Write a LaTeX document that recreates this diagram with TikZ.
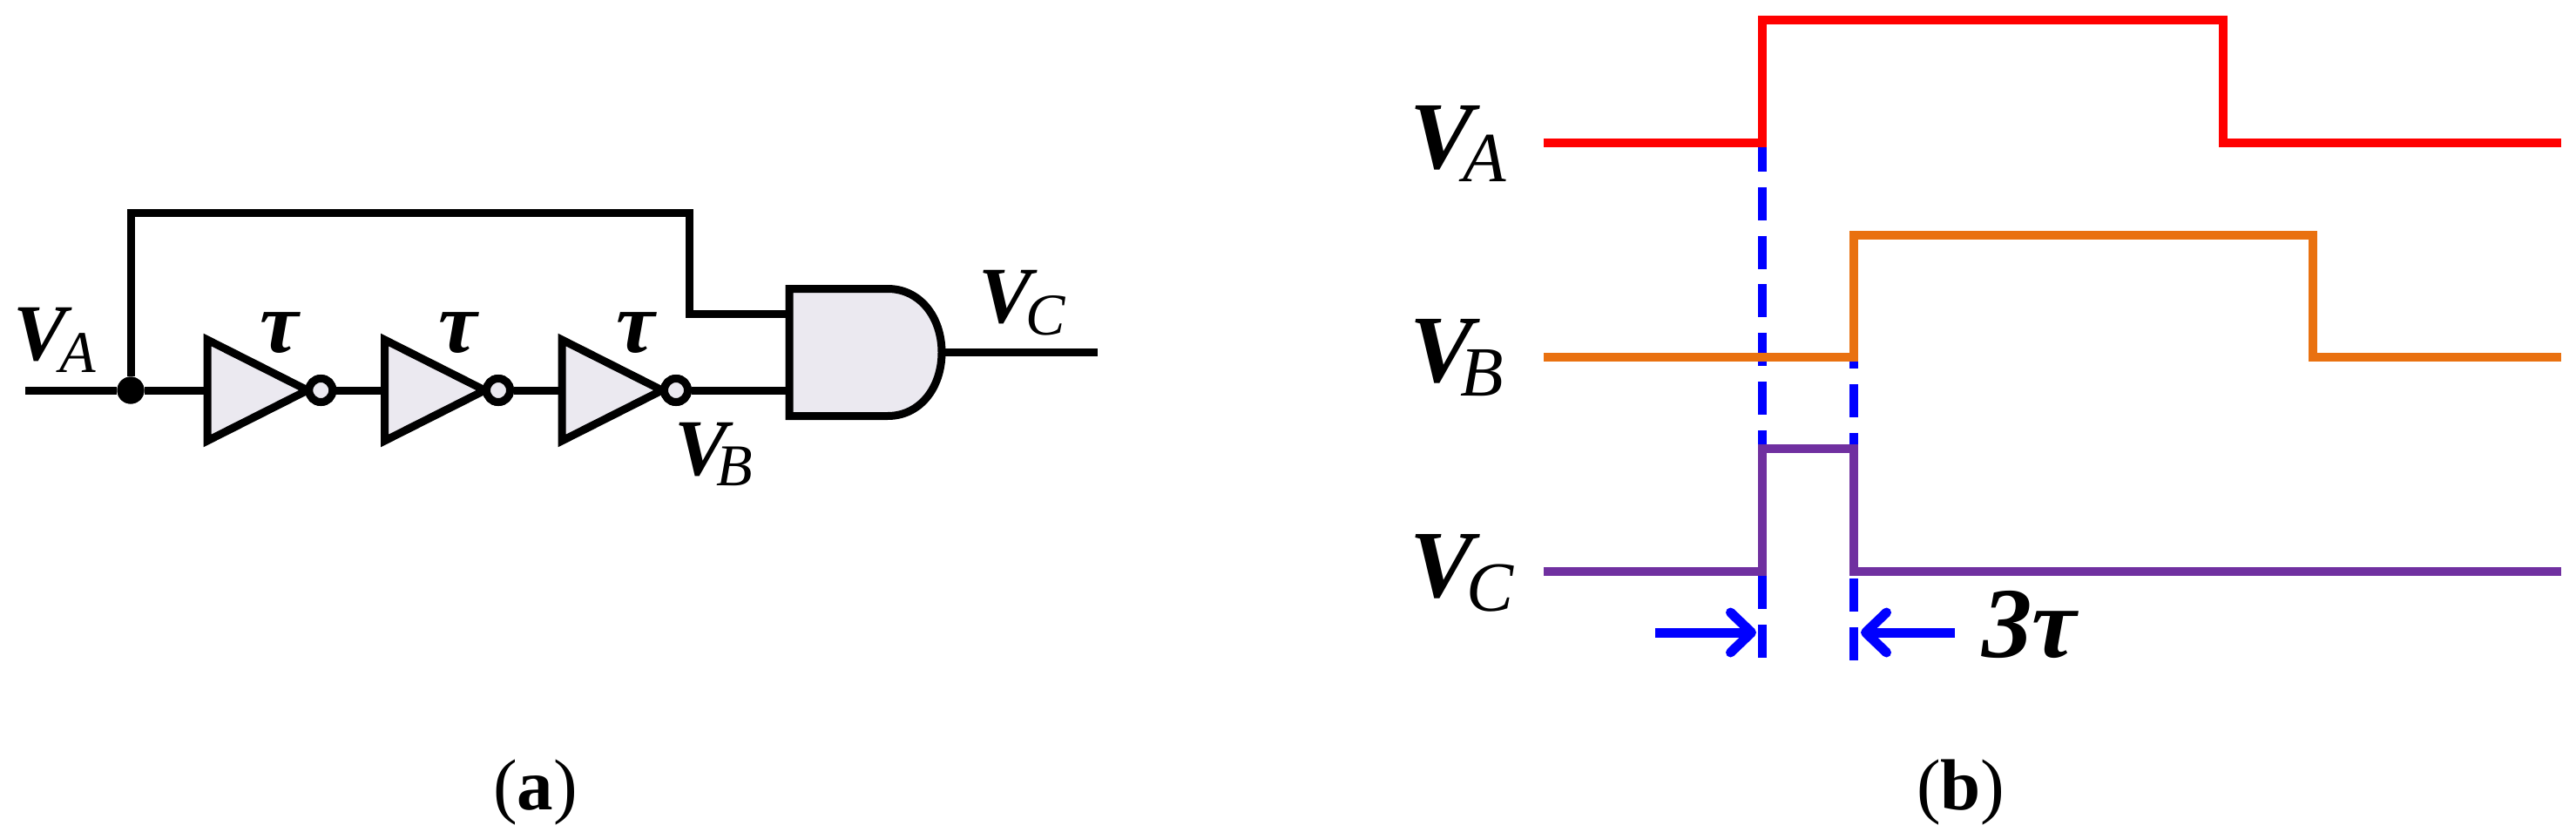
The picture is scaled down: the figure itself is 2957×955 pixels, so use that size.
\documentclass[tikz,border=0pt]{standalone}
\usepackage{fontspec}
\setmainfont{Liberation Serif}
\usetikzlibrary{arrows.meta}
\definecolor{gatefill}{HTML}{EBE9F0}
\definecolor{sigred}{HTML}{FF0000}
\definecolor{sigorange}{HTML}{E97110}
\definecolor{sigpurple}{HTML}{7030A0}
\definecolor{guideblue}{HTML}{0000FF}
\newcommand{\VS}[5]{{\fontsize{#1}{#1}\selectfont\bfseries\itshape V}\kern#3pt\raisebox{#4pt}{\fontsize{#2}{#2}\selectfont\itshape #5}}
\tikzset{
  lbl/.style={inner sep=0pt,outer sep=0pt,anchor=base west},
  wire/.style={line width=9pt,miter limit=10},
  gatebody/.style={line width=9pt,fill=gatefill,line join=miter,miter limit=10},
  bubble/.style={circle,draw,line width=9pt,fill=gatefill,minimum size=27pt,inner sep=0pt},
  junction/.style={circle,fill=black,minimum size=31pt,inner sep=0pt},
  trace/.style={line width=10pt,line join=miter},
  guide/.style={line width=10pt,guideblue,dash pattern=on 38pt off 17.8pt},
  dimarrow/.style={line width=11pt,guideblue,-{Straight Barb[round,length=24pt,width=46pt,line width=11pt]}},
  tautext/.style={lbl,font=\fontsize{100}{100}\selectfont\bfseries\itshape},
  capt/.style={lbl,font=\fontsize{83}{83}\selectfont}
}
\begin{document}
\begin{tikzpicture}[x=1pt,y=-1pt]
\useasboundingbox (0,0) rectangle (2957,955);
% circuit anchors
\node[junction] (dot) at (150,448) {};
\coordinate (start) at (29,448);
\coordinate (inv1) at (238,448);
\coordinate (inv2) at (441.5,448);
\coordinate (inv3) at (645,448);
\coordinate (gin1) at (906,360);
\coordinate (gin2) at (906,448);
\coordinate (gout) at (1081,404.5);
\coordinate (vcend) at (1260,404.5);
\coordinate (c1) at (150,244);
\coordinate (c2) at (791,244);
\coordinate (c3) at (791,360);
\node[bubble] (b1) at (368.3,448) {};
\node[bubble] (b2) at (572,448) {};
\node[bubble] (b3) at (776,448) {};
% wires
\draw[wire] (start) -- (dot);
\draw[wire] (dot) -- (inv1);
\draw[wire] (b1) -- (inv2);
\draw[wire] (b2) -- (inv3);
\draw[wire] (b3) -- (gin2);
\draw[wire] (dot) -- (c1) -- (c2) -- (c3) -- (gin1);
\draw[wire] (gout) -- (vcend);
% inverters
\foreach \i/\x in {1/238,2/441.5,3/645}{
  \draw[gatebody] (\x,390) -- (\x,506) -- (\x+115,448) -- cycle;
}
\node[bubble] at (b1) {};
\node[bubble] at (b2) {};
\node[bubble] at (b3) {};
\node[junction] at (dot) {};
% AND gate
\draw[gatebody] (906,331.5) -- (1019,331.5) .. controls (1056,331.5) and (1081,364) .. (1081,404.5) .. controls (1081,445) and (1056,477.5) .. (1019,477.5) -- (906,477.5) -- cycle;
% circuit labels
\node[lbl] (lva) at (16,413) {\VS{92}{68}{-9}{-14}{A}};
\node[lbl] (lvb) at (774,545) {\VS{92}{68}{-13}{-12}{B}};
\node[lbl] (lvc) at (1123,370) {\VS{92}{68}{-7}{-14}{C}};
\node[tautext] (t1) at (298,404) {τ};
\node[tautext] (t2) at (503,404) {τ};
\node[tautext] (t3) at (707,404) {τ};
% timing guides
\coordinate (g1a) at (2023,159);
\coordinate (g1b) at (2023,755);
\coordinate (g2a) at (2128,273.6);
\coordinate (g2b) at (2128,758);
\draw[guide] (g1a) -- (g1b);
\draw[guide] (g2a) -- (g2b);
% traces
\draw[trace,sigred] (1772,164) -- (2023,164) -- (2023,23.5) -- (2552,23.5) -- (2552,164) -- (2940,164);
\draw[trace,sigorange] (1772,410) -- (2128,410) -- (2128,269.5) -- (2655,269.5) -- (2655,410) -- (2940,410);
\draw[trace,sigpurple] (1772,656) -- (2023,656) -- (2023,515) -- (2128,515) -- (2128,656) -- (2940,656);
% dimension arrows
\coordinate (a1s) at (1900,726);
\coordinate (a1e) at (2016,726);
\coordinate (a2s) at (2244,726);
\coordinate (a2e) at (2136,726);
\draw[dimarrow] (a1s) -- (a1e);
\draw[dimarrow] (a2s) -- (a2e);
% timing labels
\node[lbl] (rva) at (1618,193) {\VS{110}{81}{-12}{-15}{A}};
\node[lbl] (rvb) at (1618,438) {\VS{110}{81}{-15}{-16}{B}};
\node[lbl] (rvc) at (1618,685) {\VS{110}{81}{-8}{-16}{C}};
\node[lbl,font=\fontsize{115}{115}\selectfont\bfseries\itshape] (three) at (2275,754) {3τ};
% captions
\node[capt] (capa) at (566,929) {(\textbf{a})};
\node[capt] (capb) at (2200,929) {(\textbf{b})};
\end{tikzpicture}
\end{document}
